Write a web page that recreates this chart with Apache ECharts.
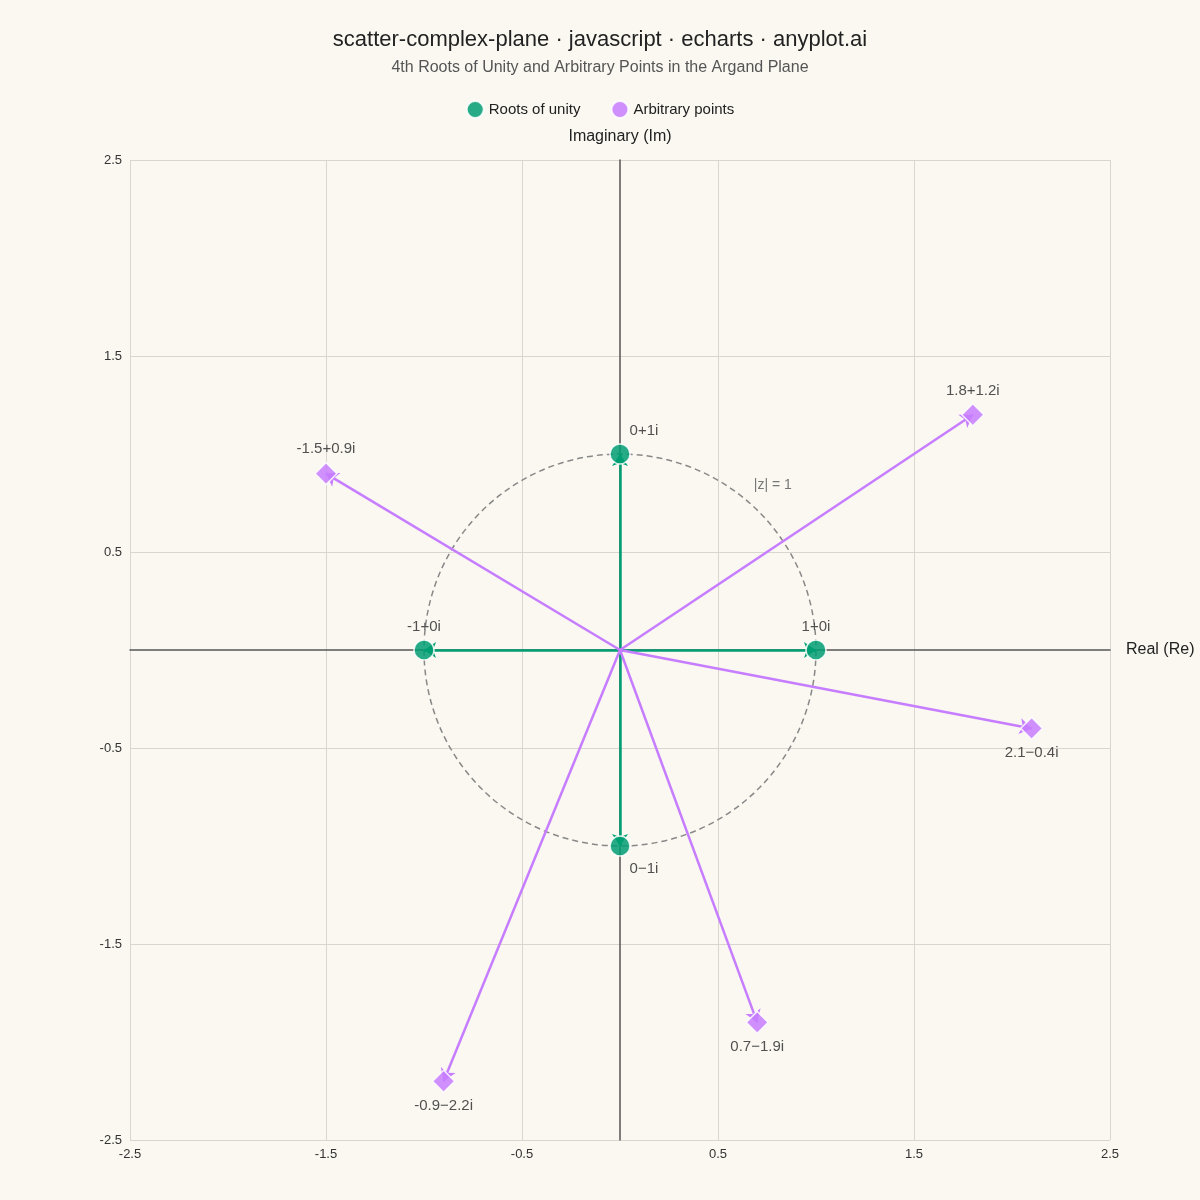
<!DOCTYPE html>
<html>
<head>
<meta charset="utf-8">
<script src="https://cdn.jsdelivr.net/npm/echarts@6/dist/echarts.min.js"></script>
<style>
html,body{margin:0;padding:0;background:#FAF8F1;}
#chart{width:1200px;height:1200px;}
</style>
</head>
<body>
<div id="chart"></div>
<script>
const rootsRe = [1, 0, -1, 0];
const rootsIm = [0, 1, 0, -1];
const rootsLabels = ['1+0i', '0+1i', '-1+0i', '0\u22121i'];
const pointsRe = [1.8, -1.5, 2.1, 0.7, -0.9];
const pointsIm = [1.2, 0.9, -0.4, -1.9, -2.2];
const pointsLabels = ['1.8+1.2i', '-1.5+0.9i', '2.1\u22120.4i', '0.7\u22121.9i', '-0.9\u22122.2i'];
const axisMin = -2.5, axisMax = 2.5, axisStep = 1;
const unitRadius = 1;
const unitLabelPos = [0.78, 0.84];
const unitLabelText = '|z| = 1';

const GREEN = '#009E73';
const PURPLE = '#C77DFF';
const FONT = '"Liberation Sans", Arial, sans-serif';

const rootsData = rootsRe.map((x, i) => {
  const y = rootsIm[i];
  let label;
  if (x === 0 && y > 0) label = { position: 'top', offset: [24, 0] };
  else if (x === 0 && y < 0) label = { position: 'bottom', offset: [24, 0] };
  else label = { position: 'top' };
  return { value: [x, y], name: rootsLabels[i], label };
});
const pointsData = pointsRe.map((x, i) => {
  const y = pointsIm[i];
  return { value: [x, y], name: pointsLabels[i], label: { position: y >= 0 ? 'top' : 'bottom' } };
});
const rootsLines = rootsRe.map((x, i) => ({ coords: [[0, 0], [x, rootsIm[i]]] }));
const pointsLines = pointsRe.map((x, i) => ({ coords: [[0, 0], [x, pointsIm[i]]] }));

const chart = echarts.init(document.getElementById('chart'));
const baseAxis = {
  type: 'value', min: axisMin, max: axisMax, interval: axisStep,
  axisLine: { show: false }, axisTick: { show: false },
  axisLabel: { color: '#333', fontSize: 13, fontFamily: FONT },
  splitLine: { show: true, lineStyle: { color: '#D9D6CF', width: 1 } }
};
const zeroAxis = {
  type: 'value', min: axisMin, max: axisMax, interval: axisStep,
  axisLine: { show: true, onZero: true, lineStyle: { color: '#555', width: 1.5 } },
  axisTick: { show: false }, axisLabel: { show: false }, splitLine: { show: false },
  nameTextStyle: { color: '#222', fontSize: 16, fontFamily: FONT }
};
const labelStyle = { show: true, formatter: '{b}', color: '#333', fontSize: 15, fontFamily: FONT, distance: 5 };

chart.setOption({
  backgroundColor: '#FAF8F1',
  animation: false,
  title: {
    text: 'scatter-complex-plane \u00b7 javascript \u00b7 echarts \u00b7 anyplot.ai',
    subtext: '4th Roots of Unity and Arbitrary Points in the Argand Plane',
    left: 'center', top: 24, itemGap: 9,
    textStyle: { fontSize: 22, fontWeight: 'normal', color: '#222', fontFamily: FONT },
    subtextStyle: { fontSize: 16, color: '#555', fontFamily: FONT }
  },
  legend: {
    data: ['Roots of unity', 'Arbitrary points'],
    top: 95, left: 'center', icon: 'circle', itemWidth: 17, itemHeight: 17, itemGap: 30,
    textStyle: { fontSize: 15, color: '#222', fontFamily: FONT }
  },
  grid: { left: 130, right: 90, top: 160, bottom: 60, containLabel: false },
  xAxis: [
    Object.assign({}, baseAxis, { position: 'bottom', axisLabel: Object.assign({}, baseAxis.axisLabel, { margin: 8 }) }),
    Object.assign({}, zeroAxis, { position: 'top', name: 'Real (Re)', nameLocation: 'end', nameGap: 16 })
  ],
  yAxis: [
    Object.assign({}, baseAxis, { position: 'left', axisLabel: Object.assign({}, baseAxis.axisLabel, { margin: 8 }) }),
    Object.assign({}, zeroAxis, { position: 'right', name: 'Imaginary (Im)', nameLocation: 'end', nameGap: 15 })
  ],
  series: [
    {
      type: 'custom', name: 'unit', xAxisIndex: 0, yAxisIndex: 0, silent: true, z: 1,
      data: [[0, 0, unitRadius]],
      renderItem: function (params, api) {
        const c = api.coord([api.value(0), api.value(1)]);
        const r = api.size([api.value(2), api.value(2)])[0];
        const lp = api.coord(unitLabelPos);
        return {
          type: 'group',
          children: [
            { type: 'circle', shape: { cx: c[0], cy: c[1], r: r },
              style: { fill: null, stroke: '#888', lineWidth: 1.5, lineDash: [6, 4] } },
            { type: 'text', x: lp[0], y: lp[1],
              style: { text: unitLabelText, fill: '#777', fontSize: 14, fontFamily: FONT, align: 'center', verticalAlign: 'middle' } }
          ]
        };
      }
    },
    {
      type: 'lines', name: 'rootsVec', coordinateSystem: 'cartesian2d', xAxisIndex: 0, yAxisIndex: 0, z: 2,
      symbol: ['none', 'arrow'], symbolSize: 12,
      lineStyle: { color: GREEN, width: 2.5, opacity: 1, curveness: 0 },
      data: rootsLines
    },
    {
      type: 'lines', name: 'pointsVec', coordinateSystem: 'cartesian2d', xAxisIndex: 0, yAxisIndex: 0, z: 2,
      symbol: ['none', 'arrow'], symbolSize: 12,
      lineStyle: { color: PURPLE, width: 2.5, opacity: 1, curveness: 0 },
      data: pointsLines
    },
    {
      type: 'scatter', name: 'Roots of unity', xAxisIndex: 0, yAxisIndex: 0, z: 3,
      symbol: 'circle', symbolSize: 20,
      itemStyle: { color: GREEN, opacity: 0.85, borderColor: '#fff', borderWidth: 1.5 },
      label: labelStyle,
      data: rootsData
    },
    {
      type: 'scatter', name: 'Arbitrary points', xAxisIndex: 0, yAxisIndex: 0, z: 3,
      symbol: 'diamond', symbolSize: 22,
      itemStyle: { color: PURPLE, opacity: 0.85, borderColor: '#fff', borderWidth: 1.5 },
      label: labelStyle,
      data: pointsData
    }
  ]
});
</script>
</body>
</html>
